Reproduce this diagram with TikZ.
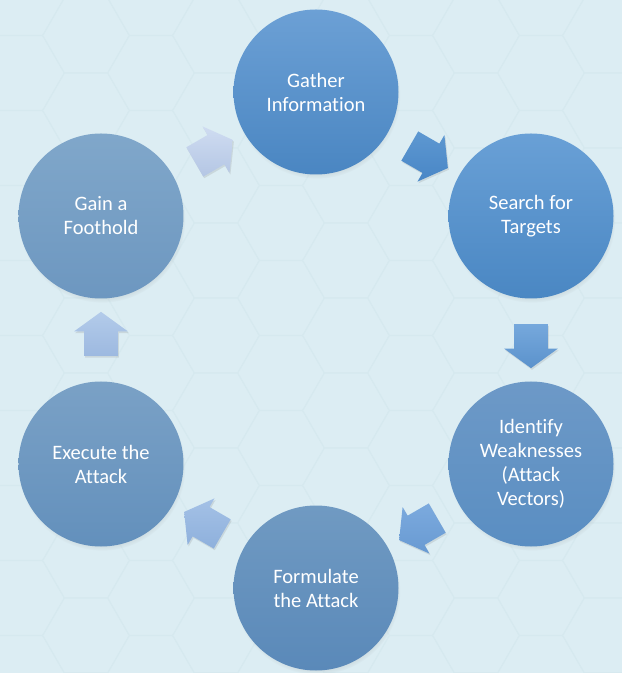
\documentclass[tikz,border=0pt]{standalone}
\usepackage{fontspec}
\setmainfont[Ligatures = NoCommon]{Carlito}
\usetikzlibrary{calc}
\usetikzlibrary{shapes.arrows}
\usetikzlibrary{shadows}

\definecolor{paper}{HTML}{DCEDF3}
\definecolor{honeycomb}{HTML}{D6E9EF}
\definecolor{gatherTop}{HTML}{6CA0D5}
\definecolor{gatherBot}{HTML}{4A86C2}
\definecolor{searchTop}{HTML}{69A0D6}
\definecolor{searchBot}{HTML}{4A87C3}
\definecolor{identifyTop}{HTML}{6D99C7}
\definecolor{identifyBot}{HTML}{5A8EC2}
\definecolor{formulateTop}{HTML}{709AC2}
\definecolor{formulateBot}{HTML}{5A89B9}
\definecolor{executeTop}{HTML}{7AA1C6}
\definecolor{executeBot}{HTML}{6390BC}
\definecolor{gainTop}{HTML}{80A7CA}
\definecolor{gainBot}{HTML}{6D97C0}

\tikzset{
  stage/.style = {circle, minimum size = 4.95cm, inner sep = 0pt, align = center,
    text = white, font = \fontsize{17.5}{20.5}\selectfont,
    circular drop shadow = {shadow xshift = 0.03cm, shadow yshift = -0.1cm, opacity = 0.35, shadow scale = 1.01}},
  flow/.style = {single arrow, minimum height = 1.32cm, minimum width = 0pt,
    inner xsep = 0pt, inner ysep = 0.5cm,
    single arrow head extend = 0.3cm, single arrow tip angle = 108,
    drop shadow = {shadow xshift = 0.03cm, shadow yshift = -0.05cm, opacity = 0.2}}
}

\begin{document}
\begin{tikzpicture}
            \useasboundingbox (-9.48,-9.99) rectangle (9.18,10.2);
            \fill[paper] (-9.48,-9.99) rectangle (9.18,10.2);
            \begin{scope}
                \clip (-9.48,-9.99) rectangle (9.18,10.2);
                \foreach \c in {0,...,10}
                    \foreach \k in {-1,...,9} {
                        \pgfmathsetmacro\hx{(-295 + 65*\c)*0.03}
                        \pgfmathsetmacro\hy{(267 - 75*\k + 37.5*mod(\c,2))*0.03}
                        \draw[honeycomb, line width = 0.5pt] (\hx,\hy) +(0:1.29) -- +(60:1.29) -- +(120:1.29) -- +(180:1.29) -- +(240:1.29) -- +(300:1.29) -- cycle;
                    }
            \end{scope}
            \node[stage, top color = gatherTop, bottom color = gatherBot] (Gather) at (0,7.44) {Gather\\Information};
            \node[stage, top color = searchTop, bottom color = searchBot] (Search) at (6.45,3.72) {Search for\\Targets};
            \node[stage, top color = identifyTop, bottom color = identifyBot] (Identify) at (6.45,-3.72) {Identify\\Weaknesses\\(Attack\\Vectors)};
            \node[stage, top color = formulateTop, bottom color = formulateBot] (Formulate) at (0,-7.44) {Formulate\\the Attack};
            \node[stage, top color = executeTop, bottom color = executeBot] (Execute) at (-6.45,-3.72) {Execute the\\Attack};
            \node[stage, top color = gainTop, bottom color = gainBot] (Gain) at (-6.45,3.72) {Gain a\\Foothold};
            \node[flow, rotate = -30, top color = {rgb,255:red,94;green,152;blue,209}, bottom color = {rgb,255:red,72;green,134;blue,198}] (toSearch) at ($(Gather)!0.5!(Search)$) {};
            \node[flow, rotate = -90, top color = {rgb,255:red,118;green,168;blue,220}, bottom color = {rgb,255:red,91;green,146;blue,204}] (toIdentify) at ($(Search)!0.5!(Identify)$) {};
            \node[flow, rotate = -150, top color = {rgb,255:red,124;green,170;blue,222}, bottom color = {rgb,255:red,104;green,154;blue,210}] (toFormulate) at ($(Identify)!0.5!(Formulate)$) {};
            \node[flow, rotate = 150, top color = {rgb,255:red,164;green,193;blue,230}, bottom color = {rgb,255:red,142;green,176;blue,220}] (toExecute) at ($(Formulate)!0.5!(Execute)$) {};
            \node[flow, rotate = 90, top color = {rgb,255:red,179;green,203;blue,234}, bottom color = {rgb,255:red,157;green,185;blue,224}] (toGain) at ($(Execute)!0.5!(Gain)$) {};
            \node[flow, rotate = 30, top color = {rgb,255:red,207;green,220;blue,241}, bottom color = {rgb,255:red,180;green,198;blue,228}] (toGather) at ($(Gain)!0.5!(Gather)$) {};
        \end{tikzpicture}
\end{document}
